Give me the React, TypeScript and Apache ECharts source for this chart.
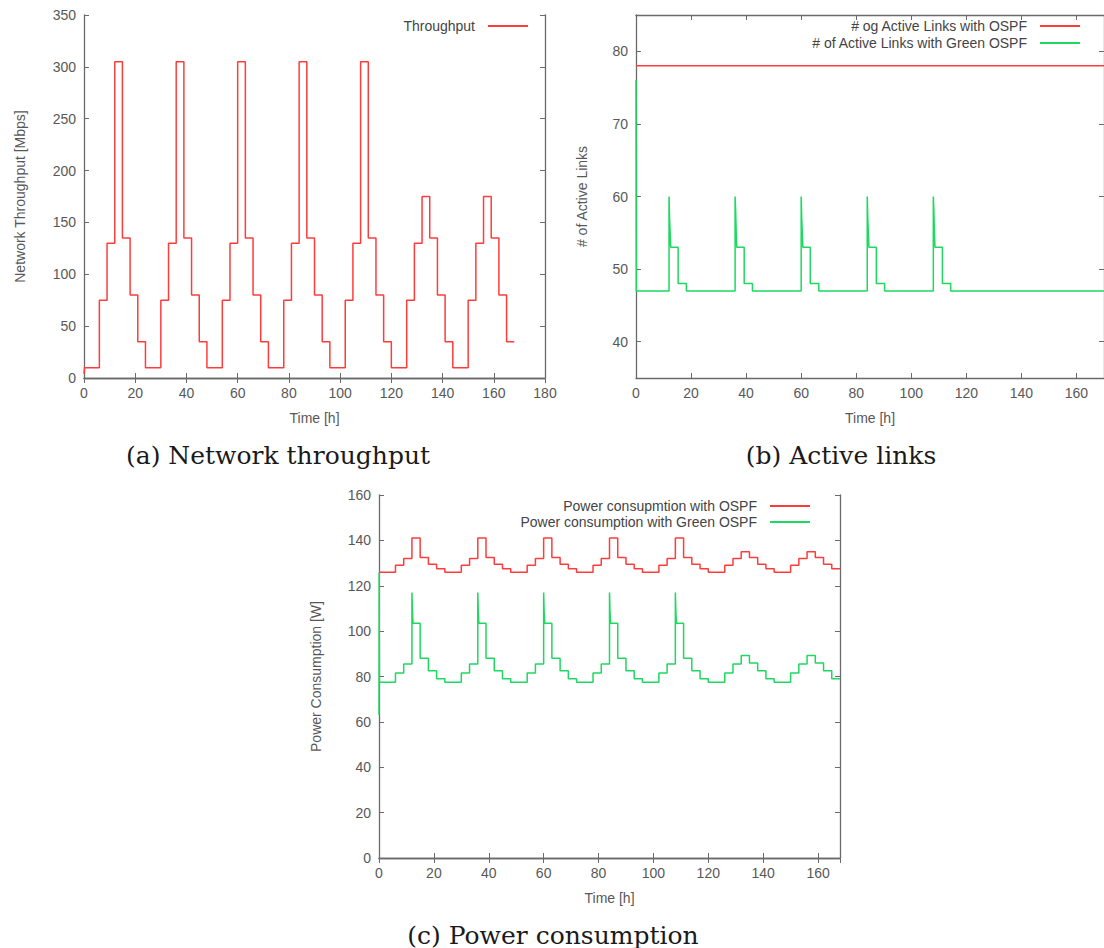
import React, { useEffect, useRef } from "react";
import * as echarts from "echarts";

// ---------- data ----------
const throughputHours = [0, 0.2, 6, 9, 12, 15, 18, 21, 24, 30, 33, 36, 39, 42, 45, 48, 54, 57, 60, 63, 66, 69, 72, 78, 81, 84, 87, 90, 93, 96, 102, 105, 108, 111, 114, 117, 120, 126, 129, 132, 135, 138, 141, 144, 150, 153, 156, 159, 162, 165, 168];
const throughputMbps = [4, 10, 75, 130, 305, 135, 80, 35, 10, 75, 130, 305, 135, 80, 35, 10, 75, 130, 305, 135, 80, 35, 10, 75, 130, 305, 135, 80, 35, 10, 75, 130, 305, 135, 80, 35, 10, 75, 130, 175, 135, 80, 35, 10, 75, 130, 175, 135, 80, 35, 35];

const linksOspfHours = [0, 170];
const linksOspf = [78, 78];

const linksGreenHours = [0, 0.1,
  12, 12.2, 12.4, 12.6, 15.3, 18.3,
  36, 36.2, 36.4, 36.6, 39.3, 42.3,
  60, 60.2, 60.4, 60.6, 63.3, 66.4,
  84, 84.2, 84.4, 84.6, 87.3, 90.3,
  108, 108.2, 108.4, 108.6, 111.3, 114.3,
  170];
const linksGreen = [76, 47,
  60, 57, 55, 53, 48, 47,
  60, 58, 55, 53, 48, 47,
  60, 57, 55, 53, 48, 47,
  60, 57, 55, 53, 48, 47,
  60, 58, 55, 53, 48, 47,
  47];

const powerOspfHours = [0, 6, 9, 12, 15, 18, 21, 24, 30, 33, 36, 39, 42, 45, 48, 54, 57, 60, 63, 66, 69, 72, 78, 81, 84, 87, 90, 93, 96, 102, 105, 108, 111, 114, 117, 120, 126, 129, 132, 135, 138, 141, 144, 150, 153, 156, 159, 162, 165, 168];
const powerOspf = [
  126, 129, 132, 141, 132.5, 129.5, 127.5,
  126, 129, 132, 141, 132.5, 129.5, 127.5,
  126, 129, 132, 141, 132.5, 129.5, 127.5,
  126, 129, 132, 141, 132.5, 129.5, 127.5,
  126, 129, 132, 141, 132.5, 129.5, 127.5,
  126, 129, 132, 135, 132.5, 129.5, 127.5,
  126, 129, 132, 135, 132.5, 129.5, 127.5,
  127.5];

const powerGreenHours = [0, 0.05, 0.15,
  6, 9, 12, 12.2, 12.4, 15, 18, 21,
  24, 30, 33, 36, 36.2, 36.4, 39, 42, 45,
  48, 54, 57, 60, 60.2, 60.4, 63, 66, 69,
  72, 78, 81, 84, 84.2, 84.4, 87, 90, 93,
  96, 102, 105, 108, 108.2, 108.4, 111, 114, 117,
  120, 126, 129, 132, 135, 138, 141,
  144, 150, 153, 156, 159, 162, 165,
  168];
const powerGreen = [63, 126, 77.5,
  81.5, 85.5, 117, 108, 103.5, 88, 82.5, 79,
  77.5, 81.5, 85.5, 117, 108, 103.5, 88, 82.5, 79,
  77.5, 81.5, 85.5, 117, 108, 103.5, 88, 82.5, 79,
  77.5, 81.5, 85.5, 117, 108, 103.5, 88, 82.5, 79,
  77.5, 81.5, 85.5, 117, 108, 103.5, 88, 82.5, 79,
  77.5, 81.5, 85.5, 89.3, 86, 82.5, 79,
  77.5, 81.5, 85.5, 89.3, 86, 82.5, 79,
  79];

const seriesNames = {
  thr: "Throughput",
  lOspf: "# og Active Links with OSPF",
  lGreen: "# of Active Links with Green OSPF",
  pOspf: "Power consupmtion with OSPF",
  pGreen: "Power consumption with Green OSPF",
};
const captions = ["(a) Network throughput", "(b) Active links", "(c) Power consumption"];

// ---------- styles ----------
const RED = "#ff3c3c";
const GREEN = "#1ed860";
const AXIS = "#6a6a6a";
const LABEL = "#585858";
const FONT = "'Liberation Sans', Arial, sans-serif";

const zip = (xs: number[], ys: number[]) => xs.map((x, i) => [x, ys[i]]);

function xAxes(gridIndex: number, max: number, name: string) {
  const common = {
    type: "value", gridIndex, min: 0, max, interval: 20,
    axisLine: { show: true, lineStyle: { color: AXIS, width: 1.3 } },
    axisTick: { show: true, inside: true, length: 5, lineStyle: { color: AXIS } },
    splitLine: { show: false },
  };
  return [
    {
      ...common, position: "bottom",
      axisLabel: { show: true, margin: 8, color: LABEL, fontSize: 14, fontFamily: FONT, showMaxLabel: max % 20 === 0 },
      name, nameLocation: "middle", nameGap: 33,
      nameTextStyle: { color: LABEL, fontSize: 14, fontFamily: FONT },
    },
    { ...common, position: "top", axisLabel: { show: false } },
  ];
}

function yAxes(gridIndex: number, min: number, max: number, interval: number | null, name: string, nameGap: number) {
  const common: any = {
    type: "value", gridIndex, min, max,
    axisLine: { show: true, onZero: false, lineStyle: { color: AXIS, width: 1.3 } },
    axisTick: { show: true, inside: true, length: 5, lineStyle: { color: AXIS } },
    splitLine: { show: false },
  };
  if (interval !== null) common.interval = interval;
  return [
    {
      ...common, position: "left",
      axisLabel: {
        show: true, margin: 8, color: LABEL, fontSize: 14, fontFamily: FONT,
        showMinLabel: interval !== null, showMaxLabel: interval !== null,
      },
      name, nameLocation: "middle", nameGap, nameRotate: 90,
      nameTextStyle: { color: LABEL, fontSize: 14, fontFamily: FONT },
    },
    { ...common, position: "right", axisLabel: { show: false } },
  ];
}

function lineSeries(name: string, color: string, data: number[][], axisIndex: number) {
  return {
    name, type: "line", step: "end", data, color,
    xAxisIndex: axisIndex, yAxisIndex: axisIndex,
    showSymbol: false, symbol: "none",
    lineStyle: { color, width: 1.5 },
    silent: true,
  };
}

function legend(name: string, right: number, top: number) {
  return {
    data: [name], right, top, padding: 0, align: "right", orient: "horizontal",
    icon: "rect", itemWidth: 40, itemHeight: 2, selectedMode: false,
    textStyle: { color: "#444", fontSize: 14, fontFamily: FONT, padding: [0, 8, 0, 0] },
  };
}

export default function App() {
  const ref = useRef<HTMLDivElement>(null);
  useEffect(() => {
    if (!ref.current) return;
    const chart = echarts.init(ref.current, null, { renderer: "svg" });
    const capFont = "25px 'DejaVu Serif', serif";
    chart.setOption({
      animation: false,
      backgroundColor: "#fff",
      grid: [
        { left: 84, top: 15, width: 461, height: 363 },
        { left: 636, top: 15, width: 470, height: 363 },
        { left: 379, top: 495, width: 461, height: 363 },
      ],
      xAxis: [
        ...xAxes(0, 180, "Time [h]"),
        ...xAxes(1, 170, "Time [h]"),
        ...xAxes(2, 168, "Time [h]"),
      ],
      yAxis: [
        ...yAxes(0, 0, 350, 50, "Network Throughput [Mbps]", 57),
        ...yAxes(1, 35, 85, null, "# of Active Links", 47),
        ...yAxes(2, 0, 160, 20, "Power Consumption [W]", 56),
      ],
      legend: [
        legend(seriesNames.thr, 576, 19),
        legend(seriesNames.lOspf, 24, 19),
        legend(seriesNames.lGreen, 24, 36),
        legend(seriesNames.pOspf, 294, 499),
        legend(seriesNames.pGreen, 294, 515),
      ],
      series: [
        lineSeries(seriesNames.thr, RED, zip(throughputHours, throughputMbps), 0),
        lineSeries(seriesNames.lOspf, RED, zip(linksOspfHours, linksOspf), 2),
        lineSeries(seriesNames.lGreen, GREEN, zip(linksGreenHours, linksGreen), 2),
        lineSeries(seriesNames.pOspf, RED, zip(powerOspfHours, powerOspf), 4),
        lineSeries(seriesNames.pGreen, GREEN, zip(powerGreenHours, powerGreen), 4),
      ],
      graphic: [
        { type: "text", x: 278, y: 455, style: { text: captions[0], font: capFont, fill: "#1a1a1a", align: "center", verticalAlign: "middle" } },
        { type: "text", x: 841, y: 455, style: { text: captions[1], font: capFont, fill: "#1a1a1a", align: "center", verticalAlign: "middle" } },
        { type: "text", x: 553, y: 935, style: { text: captions[2], font: capFont, fill: "#1a1a1a", align: "center", verticalAlign: "middle" } },
      ],
    });
    return () => chart.dispose();
  }, []);
  return (
    <div
      ref={ref}
      style={{ position: "absolute", left: 0, top: 0, width: 1104, height: 948, background: "#fff" }}
    />
  );
}
